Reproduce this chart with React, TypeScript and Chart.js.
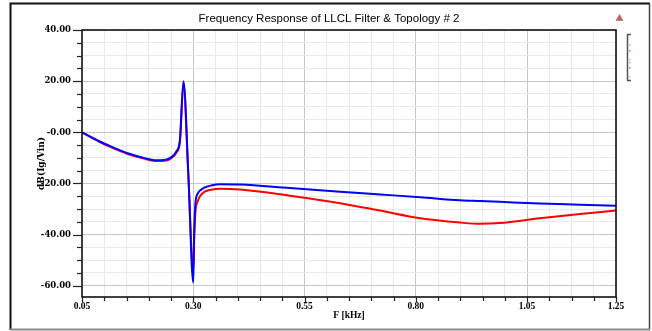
import React, { useEffect, useRef } from "react";
import { Chart, registerables } from "chart.js";

Chart.register(...registerables);

// ---- data ----
const freqKHz = [
  0.05, 0.09, 0.116, 0.153, 0.191, 0.213, 0.236, 0.251, 0.262, 0.27, 0.278,
  0.289, 0.3, 0.302, 0.305, 0.31, 0.315, 0.325, 0.34, 0.36, 0.405, 0.517,
  0.63, 0.72, 0.81, 0.9, 0.944, 0.989, 1.079, 1.169, 1.25,
];
const blueDb = [
  0, -3.6, -5.6, -8.2, -10.1, -10.9, -10.8, -9.7, -7.5, -3, 20,
  -16.5, -58.8, -40, -27.5, -24, -22.8, -21.6, -20.8, -20.3, -20.4, -21.8,
  -23.2, -24.3, -25.4, -26.6, -26.9, -27.2, -27.8, -28.3, -28.75,
];
const redDb = [
  0, -3.8, -5.9, -8.5, -10.4, -11.2, -11.1, -10.1, -8.0, -3.8, 19,
  -17, -54, -42, -31, -27, -25, -23.3, -22.5, -22.1, -22.4, -24.8,
  -27.7, -30.6, -33.6, -35.3, -35.8, -35.5, -33.6, -31.9, -30.6,
];

const xGridValues = [
  0.05, 0.1, 0.15, 0.2, 0.25, 0.3, 0.35, 0.4, 0.45, 0.5, 0.55, 0.6, 0.65,
  0.7, 0.75, 0.8, 0.85, 0.9, 0.95, 1.0, 1.05, 1.1, 1.15, 1.2, 1.25,
];
const xTickValues = [0.05, 0.3, 0.55, 0.8, 1.05, 1.25];
const xTickLabels = ["0.05", "0.30", "0.55", "0.80", "1.05", "1.25"];
const xMajorGrid = [0.3, 0.55, 0.8, 1.05];

const yGridValues = [
  40, 35, 30, 25, 20, 15, 10, 5, 0, -5, -10, -15, -20, -25, -30, -35, -40,
  -45, -50, -55, -60,
];
const yTickValues = [40, 20, 0, -20, -40, -60];
const yTickLabels = ["40.00", "20.00", "-0.00", "-20.00", "-40.00", "-60.00"];
const yMajorGrid = [20, 0, -20, -40, -60];

const titleText = "Frequency Response of LLCL Filter & Topology # 2";
const xTitle = "F [kHz]";
const yTitle = "dB(Ig/Vin)";

const near = (a: number, list: number[]) => list.findIndex((v) => Math.abs(v - a) < 1e-6);

const W = 652;
const H = 331;

const decor = {
  id: "decor",
  beforeDraw(chart: any) {
    const ctx = chart.ctx;
    ctx.save();
    ctx.fillStyle = "#ffffff";
    ctx.fillRect(0, 0, W, H);
    ctx.restore();
  },
  afterDraw(chart: any) {
    const ctx = chart.ctx;
    const { left, right, top, bottom } = chart.chartArea;
    const xs = chart.scales.x;
    const ys = chart.scales.y;
    ctx.save();

    // outer frame
    ctx.lineWidth = 2;
    ctx.strokeStyle = "#111";
    ctx.beginPath();
    ctx.moveTo(10.5, 330);
    ctx.lineTo(10.5, 3.5);
    ctx.lineTo(650, 3.5);
    ctx.stroke();
    ctx.strokeStyle = "#444";
    ctx.lineWidth = 1.5;
    ctx.beginPath();
    ctx.moveTo(649.5, 3.5);
    ctx.lineTo(649.5, 329.5);
    ctx.stroke();
    ctx.strokeStyle = "#8a8a8a";
    ctx.lineWidth = 2;
    ctx.beginPath();
    ctx.moveTo(10, 329.5);
    ctx.lineTo(650, 329.5);
    ctx.stroke();

    // plot frame
    ctx.strokeStyle = "#000";
    ctx.lineWidth = 1.5;
    ctx.strokeRect(left, top, right - left, bottom - top);

    // y tick marks
    ctx.lineWidth = 1.2;
    ctx.strokeStyle = "#222";
    yGridValues.forEach((v) => {
      const py = Math.round(ys.getPixelForValue(v)) + 0.5;
      const len = near(v, yTickValues) >= 0 ? 9 : 5;
      ctx.beginPath();
      ctx.moveTo(left - len, py);
      ctx.lineTo(left, py);
      ctx.stroke();
    });
    // x tick marks
    xGridValues.forEach((v) => {
      const px = Math.round(xs.getPixelForValue(v)) + 0.5;
      const len = near(v, xTickValues) >= 0 ? 5 : 4;
      ctx.beginPath();
      ctx.moveTo(px, bottom);
      ctx.lineTo(px, bottom + len);
      ctx.stroke();
    });

    // title
    ctx.fillStyle = "#000";
    ctx.font = '11.5px "Liberation Sans", Arial, sans-serif';
    ctx.textAlign = "center";
    ctx.textBaseline = "middle";
    ctx.fillText(titleText, 329, 19);

    // small triangle icon
    ctx.fillStyle = "#d9534f";
    ctx.strokeStyle = "#999";
    ctx.lineWidth = 1;
    ctx.beginPath();
    ctx.moveTo(619.5, 14.5);
    ctx.lineTo(623, 20.5);
    ctx.lineTo(616, 20.5);
    ctx.closePath();
    ctx.fill();
    ctx.stroke();

    // legend bracket
    ctx.strokeStyle = "#555";
    ctx.lineWidth = 1.5;
    ctx.beginPath();
    ctx.moveTo(631, 34.5);
    ctx.lineTo(627.5, 34.5);
    ctx.lineTo(627.5, 80.5);
    ctx.lineTo(631, 80.5);
    ctx.stroke();
    ctx.fillStyle = "#bbb";
    [44, 59, 62, 76].forEach((yy) => ctx.fillRect(629, yy, 1.5, 1.5));
    ctx.fillStyle = "#ff6060";
    ctx.fillRect(629, 50, 1.5, 1.5);
    ctx.fillStyle = "#8080ff";
    ctx.fillRect(629, 67, 1.5, 1.5);

    ctx.restore();
  },
};

export default function App() {
  const ref = useRef<HTMLCanvasElement | null>(null);

  useEffect(() => {
    if (!ref.current) return;
    const xTickFont = { family: '"Liberation Serif", "Times New Roman", serif', weight: "bold" as const, size: 9.5 };
    const yTickFont = { family: '"DejaVu Serif", serif', weight: "bold" as const, size: 8.5 };
    const chart = new Chart(ref.current, {
      type: "line",
      data: {
        datasets: [
          {
            label: "blue",
            data: freqKHz.map((f, i) => ({ x: f, y: blueDb[i] })),
            borderColor: "#0000ff",
            borderWidth: 2,
            pointRadius: 0,
            fill: false,
            cubicInterpolationMode: "monotone",
          },
          {
            label: "red",
            data: freqKHz.map((f, i) => ({ x: f, y: redDb[i] })),
            borderColor: "#ff0000",
            borderWidth: 2,
            pointRadius: 0,
            fill: false,
            cubicInterpolationMode: "monotone",
          },
        ],
      },
      options: {
        responsive: false,
        animation: false,
        devicePixelRatio: 1,
        layout: { padding: { left: 0, top: 30, right: 36, bottom: 0 } },
        plugins: { legend: { display: false }, tooltip: { enabled: false }, title: { display: false } },
        scales: {
          x: {
            type: "linear",
            min: 0.05,
            max: 1.25,
            afterBuildTicks: (s: any) => {
              s.ticks = xGridValues.map((v) => ({ value: v }));
            },
            afterFit: (s: any) => {
              s.height = 34;
            },
            ticks: {
              autoSkip: false,
              maxRotation: 0,
              padding: 4,
              color: "#000",
              font: xTickFont,
              callback: (v: any) => {
                const i = near(Number(v), xTickValues);
                return i >= 0 ? xTickLabels[i] : "";
              },
            },
            grid: {
              drawTicks: false,
              color: (c: any) => (c.tick && near(c.tick.value, xMajorGrid) >= 0 ? "#c6c6c6" : "#e9e9e9"),
              lineWidth: 1,
            },
            border: { display: false },
            title: {
              display: true,
              text: xTitle,
              color: "#000",
              font: { family: '"Liberation Serif", "Times New Roman", serif', weight: "bold", size: 9.5 },
              padding: { top: 0, bottom: 9.5 },
            },
          },
          y: {
            type: "linear",
            min: -64.4,
            max: 40,
            afterBuildTicks: (s: any) => {
              s.ticks = yGridValues.map((v) => ({ value: v }));
            },
            afterFit: (s: any) => {
              s.width = 82;
            },
            ticks: {
              autoSkip: false,
              padding: 11,
              color: "#000",
              font: yTickFont,
              callback: (v: any) => {
                const i = near(Number(v), yTickValues);
                return i >= 0 ? yTickLabels[i] : "";
              },
            },
            grid: {
              drawTicks: false,
              color: (c: any) => (c.tick && near(c.tick.value, yMajorGrid) >= 0 ? "#c6c6c6" : "#e9e9e9"),
              lineWidth: 1,
            },
            border: { display: false },
            title: {
              display: true,
              text: yTitle,
              color: "#000",
              font: { family: '"DejaVu Serif", serif', weight: "bold", size: 9 },
              padding: { top: 36, bottom: 0 },
            },
          },
        },
      },
      plugins: [decor],
    } as any);
    return () => chart.destroy();
  }, []);

  return (
    <div style={{ position: "absolute", left: 0, top: 0, width: W, height: H, background: "#fff" }}>
      <canvas ref={ref} width={W} height={H} style={{ width: W, height: H, display: "block" }} />
    </div>
  );
}
